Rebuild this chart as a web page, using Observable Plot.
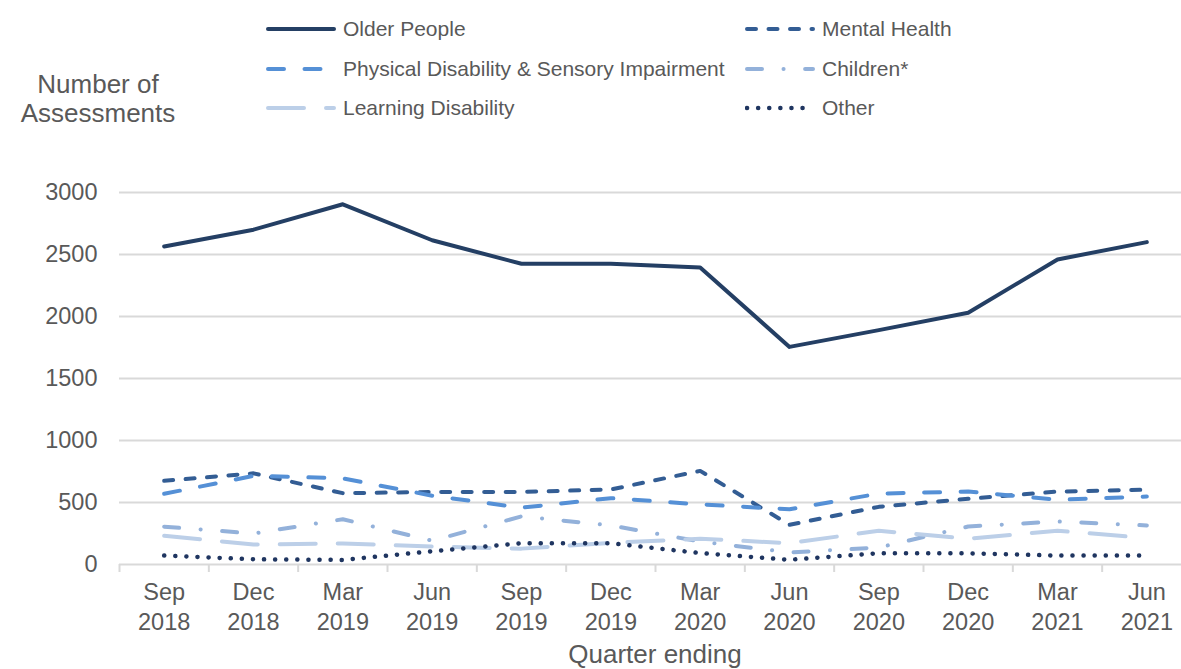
<!DOCTYPE html>
<html>
<head>
<meta charset="utf-8">
<script src="https://cdn.jsdelivr.net/npm/d3@7"></script>
<script src="https://cdn.jsdelivr.net/npm/@observablehq/plot@0.6"></script>
<style>
  html, body { margin: 0; padding: 0; background: #fff; overflow: hidden; }
  #wrap { position: relative; width: 1181px; height: 669px; overflow: hidden;
          font-family: "Liberation Sans", Arial, sans-serif; color: #595959; }
  #chart { position: absolute; left: 0; top: 0; width: 1200px; height: 669px; }
  #chart svg { max-width: none !important; width: 1200px; height: 669px; }
  #ytitle { position: absolute; left: 0; top: 70px; width: 196px; text-align: center;
            font-size: 26px; line-height: 29px; }
  .item { position: absolute; display: flex; align-items: center; height: 30px;
          font-size: 21px; white-space: nowrap; }
  .item svg { margin-right: 7px; }
</style>
</head>
<body>
<div id="wrap">
  <div id="chart"></div>
  <div id="ytitle">Number of<br>Assessments</div>
  <div id="legend"></div>
</div>
<script>
// ---- data ----
const quarters = ["Sep 2018","Dec 2018","Mar 2019","Jun 2019","Sep 2019","Dec 2019",
                  "Mar 2020","Jun 2020","Sep 2020","Dec 2020","Mar 2021","Jun 2021"];
const olderPeople   = [2565, 2700, 2905, 2615, 2425, 2425, 2395, 1755, 1890, 2030, 2460, 2600];
const mentalHealth  = [ 675,  735,  575,  585,  585,  605,  755,  320,  465,  530,  588,  603];
const physicalDis   = [ 570,  715,  695,  555,  458,  535,  485,  445,  572,  588,  522,  548];
const children      = [ 305,  250,  365,  192,  388,  315,  185,   97,  137,  306,  347,  315];
const learningDis   = [ 232,  161,  170,  145,  128,  175,  208,  172,  272,  208,  272,  214];
const other         = [  72,   42,   37,  107,  172,  172,   92,   38,   91,   90,   72,   72];
const yTicks = [0, 500, 1000, 1500, 2000, 2500, 3000];
const seriesNames = ["Older People","Mental Health","Physical Disability & Sensory Impairment",
                     "Children*","Learning Disability","Other"];

// ---- styles ----
const styles = [
  {values: olderPeople,  color: "#243f64", dash: null,               width: 4},
  {values: mentalHealth, color: "#335d94", dash: "9,12.5",           width: 4},
  {values: physicalDis,  color: "#5590d6", dash: "16,20.5",          width: 4},
  {values: children,     color: "#93b1da", dash: "15,21.5,0.1,21.5", width: 4},
  {values: learningDis,  color: "#bccfe8", dash: "36,22",            width: 4},
  {values: other,        color: "#1f3560", dash: "0.1,11",           width: 4.5}
];

const idx = quarters.map((d, i) => i);
const boundaries = d3.range(quarters.length + 1).map(i => i - 0.5);

const lineMarks = styles.map((s, k) =>
  Plot.lineY(s.values.map((v, i) => ({i, v, name: seriesNames[k]})), {
    x: "i", y: "v", stroke: s.color, strokeWidth: s.width,
    strokeDasharray: s.dash || undefined, strokeLinecap: "round", strokeLinejoin: "round"
  })
);

const chart = Plot.plot({
  width: 1200, height: 669,
  marginLeft: 119, marginRight: 9, marginTop: 192, marginBottom: 105,
  style: {fontFamily: "'Liberation Sans', Arial, sans-serif", color: "#595959", background: "transparent", maxWidth: "none"},
  x: {type: "linear", domain: [-0.5, quarters.length - 0.5]},
  y: {domain: [0, 3000]},
  marks: [
    Plot.gridY(yTicks.filter(d => d > 0), {stroke: "#d9d9d9", strokeOpacity: 1, strokeWidth: 2}),
    Plot.axisY(yTicks, {tickSize: 0, tickPadding: 22, fontSize: 23.5, tickFormat: d3.format("d"), label: null}),
    Plot.ruleY([0], {stroke: "#d9d9d9", strokeWidth: 2}),
    Plot.axisX(boundaries, {tickSize: 8, stroke: "#d9d9d9", strokeWidth: 2, strokeOpacity: 1, tickFormat: () => "", label: null}),
    Plot.axisX(idx, {tickSize: 0, tickPadding: 14, fontSize: 23.5, lineHeight: 1.27,
                     tickFormat: i => quarters[i].replace(" ", "\n"), label: null}),
    ...lineMarks
  ]
});
document.getElementById("chart").appendChild(chart);

// x-axis title
const xt = document.createElement("div");
xt.textContent = "Quarter ending";
Object.assign(xt.style, {position: "absolute", left: "455px", width: "400px", textAlign: "center",
  top: "639px", fontSize: "26px", lineHeight: "30px"});
document.getElementById("wrap").appendChild(xt);

// ---- legend ----
const legendPos = [
  [266, 14], [745, 14],
  [266, 54], [745, 54],
  [266, 93], [745, 93]
];
const legend = document.getElementById("legend");
seriesNames.forEach((name, k) => {
  const s = styles[k];
  const item = document.createElement("div");
  item.className = "item";
  item.style.left = legendPos[k][0] + "px";
  item.style.top = legendPos[k][1] + "px";
  const svg = d3.create("svg").attr("width", 70).attr("height", 12);
  svg.append("line").attr("x1", 2).attr("x2", 68).attr("y1", 6).attr("y2", 6)
    .attr("stroke", s.color).attr("stroke-width", s.width)
    .attr("stroke-linecap", "round")
    .attr("stroke-dasharray", s.dash);
  item.appendChild(svg.node());
  const t = document.createElement("span");
  t.textContent = name;
  item.appendChild(t);
  legend.appendChild(item);
});
</script>
</body>
</html>
